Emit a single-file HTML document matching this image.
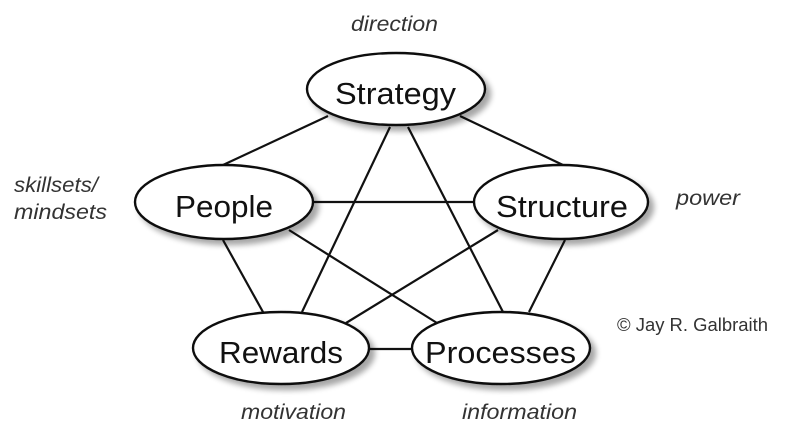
<!DOCTYPE html>
<html><head><meta charset="utf-8"><style>
html,body{margin:0;padding:0;background:#fff;}
svg{display:block;}
.n{font-family:"Liberation Sans",sans-serif;font-size:31px;fill:#111;}
.l{font-family:"Liberation Sans",sans-serif;font-size:21px;font-style:italic;fill:#333;}
</style></head><body>
<svg width="800" height="448" viewBox="0 0 800 448" xmlns="http://www.w3.org/2000/svg">
<defs>
<filter id="sh" x="-20%" y="-20%" width="150%" height="160%">
<feGaussianBlur in="SourceAlpha" stdDeviation="3"/>
<feOffset dx="5" dy="5"/>
<feComponentTransfer><feFuncA type="linear" slope="0.35"/></feComponentTransfer>
<feMerge><feMergeNode/><feMergeNode in="SourceGraphic"/></feMerge>
</filter>
</defs>
<g stroke="#111" stroke-width="2.2" fill="none">
<line x1="328" y1="116" x2="223" y2="165"/>
<line x1="460" y1="116" x2="563" y2="165"/>
<line x1="390" y1="127" x2="302" y2="312"/>
<line x1="408" y1="127" x2="503" y2="312"/>
<line x1="314" y1="202" x2="473" y2="202"/>
<line x1="223" y1="240" x2="263" y2="312"/>
<line x1="289" y1="230" x2="437" y2="323"/>
<line x1="498" y1="230" x2="346" y2="323"/>
<line x1="565" y1="240" x2="529" y2="312"/>
<line x1="369" y1="349" x2="412" y2="349"/>
</g>
<g stroke="#111" stroke-width="2.4" fill="#fff" filter="url(#sh)">
<ellipse cx="396" cy="89" rx="89" ry="36"/>
<ellipse cx="224" cy="202" rx="89" ry="37"/>
<ellipse cx="561" cy="202" rx="87" ry="37"/>
<ellipse cx="281" cy="348" rx="88" ry="36"/>
<ellipse cx="501" cy="348" rx="89" ry="36"/>
</g>
<text class="n" x="335" y="104" textLength="121" lengthAdjust="spacingAndGlyphs">Strategy</text>
<text class="n" x="175" y="217" textLength="98" lengthAdjust="spacingAndGlyphs">People</text>
<text class="n" x="496" y="217" textLength="132" lengthAdjust="spacingAndGlyphs">Structure</text>
<text class="n" x="219" y="363" textLength="124" lengthAdjust="spacingAndGlyphs">Rewards</text>
<text class="n" x="425" y="363" textLength="151" lengthAdjust="spacingAndGlyphs">Processes</text>
<text class="l" x="351" y="31" textLength="87" lengthAdjust="spacingAndGlyphs">direction</text>
<text class="l" x="14" y="192" textLength="84" lengthAdjust="spacingAndGlyphs">skillsets/</text>
<text class="l" x="14" y="219" textLength="93" lengthAdjust="spacingAndGlyphs">mindsets</text>
<text class="l" x="676" y="205" textLength="64" lengthAdjust="spacingAndGlyphs">power</text>
<text class="l" x="241" y="419" textLength="105" lengthAdjust="spacingAndGlyphs">motivation</text>
<text class="l" x="462" y="419" textLength="115" lengthAdjust="spacingAndGlyphs">information</text>
<text x="617" y="331" textLength="151" lengthAdjust="spacingAndGlyphs" style="font-family:'Liberation Sans',sans-serif;font-size:18px;fill:#333">© Jay R. Galbraith</text>
</svg>
</body></html>
